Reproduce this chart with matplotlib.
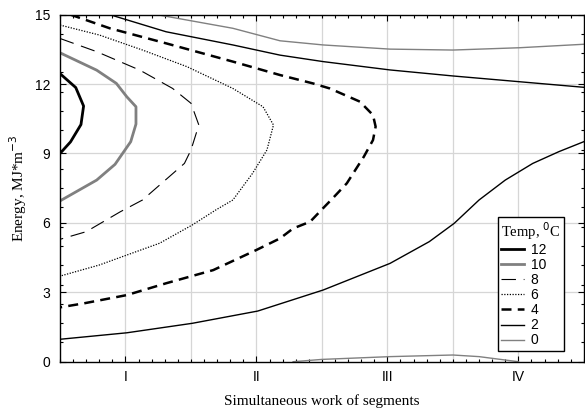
import matplotlib
matplotlib.use("Agg")
import matplotlib.pyplot as plt
import numpy as np
from matplotlib.ticker import MultipleLocator, FixedLocator

# contour levels (Temp, 0C) traced as polylines
lev12_x = [0.5, 0.62, 0.68, 0.66, 0.58, 0.5]
lev12_y = [12.45, 11.85, 11.05, 10.25, 9.5, 9.0]

lev10_x = [0.5, 0.78, 0.93, 1.01, 1.08, 1.08, 1.04, 0.92, 0.78, 0.5]
lev10_y = [13.35, 12.6, 12.03, 11.45, 11.02, 10.27, 9.51, 8.53, 7.85, 6.95]

lev8_x = [0.5, 0.78, 1.11, 1.36, 1.50, 1.56, 1.50, 1.45, 1.13, 0.96, 0.70, 0.5]
lev8_y = [13.97, 13.4, 12.6, 11.81, 11.17, 10.23, 9.15, 8.57, 6.99, 6.48, 5.62, 5.29]

lev6_x = [0.5, 0.80, 1.13, 1.47, 1.82, 2.05, 2.13, 2.08, 1.97, 1.82, 1.69, 1.51, 1.26, 1.01, 0.80, 0.5]
lev6_y = [14.55, 14.12, 13.47, 12.75, 11.81, 11.02, 10.23, 9.15, 8.14, 6.99, 6.56, 5.91, 5.12, 4.61, 4.18, 3.70]

lev4_x = [0.58, 0.88, 1.31, 1.82, 2.18, 2.43, 2.56, 2.79, 2.89, 2.91, 2.89, 2.82, 2.69, 2.57,
          2.52, 2.41, 2.28, 2.18, 2.0, 1.67, 1.31, 1.01, 0.68, 0.5]
lev4_y = [15.0, 14.41, 13.76, 12.97, 12.39, 12.03, 11.81, 11.24, 10.66, 10.16, 9.58, 8.86, 7.71, 6.99,
          6.70, 6.05, 5.76, 5.33, 4.83, 3.96, 3.39, 2.88, 2.52, 2.35]

lev2a_x = [0.88, 1.31, 1.82, 2.18, 2.51, 3.02, 3.50, 4.01, 4.5]
lev2a_y = [15.0, 14.26, 13.69, 13.25, 12.97, 12.61, 12.35, 12.10, 11.86]
lev2b_x = [0.5, 1.01, 1.51, 2.01, 2.51, 3.02, 3.32, 3.51, 3.70, 3.90, 4.11, 4.31, 4.5]
lev2b_y = [0.97, 1.25, 1.66, 2.19, 3.10, 4.25, 5.19, 5.98, 6.99, 7.85, 8.57, 9.08, 9.51]

lev0a_x = [1.24, 1.82, 2.18, 2.51, 3.02, 3.50, 4.01, 4.5]
lev0a_y = [15.0, 14.41, 13.87, 13.69, 13.51, 13.47, 13.57, 13.72]
lev0b_x = [2.28, 2.5, 3.02, 3.5, 3.7, 4.0]
lev0b_y = [0.0, 0.1, 0.22, 0.29, 0.22, 0.0]

xtick_pos = [1, 2, 3, 4]
xtick_labels = ["I", "II", "III", "IV"]
ytick_pos = [0, 3, 6, 9, 12, 15]

fig = plt.figure(figsize=(5.85, 4.09), dpi=100)
ax = fig.add_axes([0.1026, 0.1156, 0.8954, 0.8486])

ax.set_xlim(0.5, 4.5)
ax.set_ylim(0, 15)

# grid
for gx in np.arange(1.0, 4.5, 0.5):
    ax.axvline(gx, color="#d6d6d6", lw=0.9, zorder=0)
for gy in [3, 6, 9, 12]:
    ax.axhline(gy, color="#d6d6d6", lw=0.9, zorder=0)

h12, = ax.plot(lev12_x, lev12_y, color="black", lw=2.0, label="12")
h10, = ax.plot(lev10_x, lev10_y, color="#808080", lw=2.0, label="10")
h8, = ax.plot(lev8_x, lev8_y, color="black", lw=0.8, linestyle=(0, (13, 7)), label="8")
h6, = ax.plot(lev6_x, lev6_y, color="black", lw=0.9, linestyle=(0, (1, 1.2)), label="6")
h4, = ax.plot(lev4_x, lev4_y, color="black", lw=1.8, linestyle=(0, (4, 2.5)), label="4")
h2, = ax.plot(lev2a_x, lev2a_y, color="black", lw=1.0, label="2")
ax.plot(lev2b_x, lev2b_y, color="black", lw=1.0)
h0, = ax.plot(lev0a_x, lev0a_y, color="#808080", lw=1.0, label="0")
ax.plot(lev0b_x, lev0b_y, color="#808080", lw=1.0)

sans = "Liberation Sans"
serif = "Liberation Serif"

ax.xaxis.set_major_locator(FixedLocator(xtick_pos))
ax.set_xticklabels(xtick_labels, fontfamily=sans, fontsize=10)
ax.xaxis.set_minor_locator(MultipleLocator(0.1))
ax.yaxis.set_major_locator(FixedLocator(ytick_pos))
ax.set_yticklabels([str(v) for v in ytick_pos], fontfamily=sans, fontsize=10)
ax.yaxis.set_minor_locator(MultipleLocator(15 / 18))

ax.tick_params(which="both", direction="in", top=True, right=True, bottom=True, left=True, color="black")
ax.tick_params(which="major", length=4, width=0.8)
ax.tick_params(axis="x", which="major", pad=6)
ax.tick_params(axis="y", which="major", pad=7)
ax.tick_params(which="minor", length=2.5, width=0.8)

for s in ax.spines.values():
    s.set_color("black")
    s.set_linewidth(1.0)

ax.set_xlabel("Simultaneous work of segments", fontfamily=serif, fontsize=11, labelpad=7)
ax.set_ylabel("Energy, MJ*m$^{-3}$", fontfamily=serif, fontsize=11, labelpad=4)

leg = ax.legend(handles=[h12, h10, h8, h6, h4, h2, h0],
                title="Temp, $^0$C", loc="lower left", bbox_to_anchor=(0.836, 0.031),
                borderaxespad=0, frameon=True, fancybox=False, framealpha=1,
                prop={"family": sans, "size": 10}, handlelength=1.6, handletextpad=0.5,
                labelspacing=0.08, borderpad=0.25)
leg.get_title().set_fontfamily(serif)
leg.get_title().set_fontsize(10.5)
leg.get_frame().set_edgecolor("black")
leg.get_frame().set_linewidth(1.0)
leg._legend_box.align = "left"

fig.savefig("out.png", dpi=100)
